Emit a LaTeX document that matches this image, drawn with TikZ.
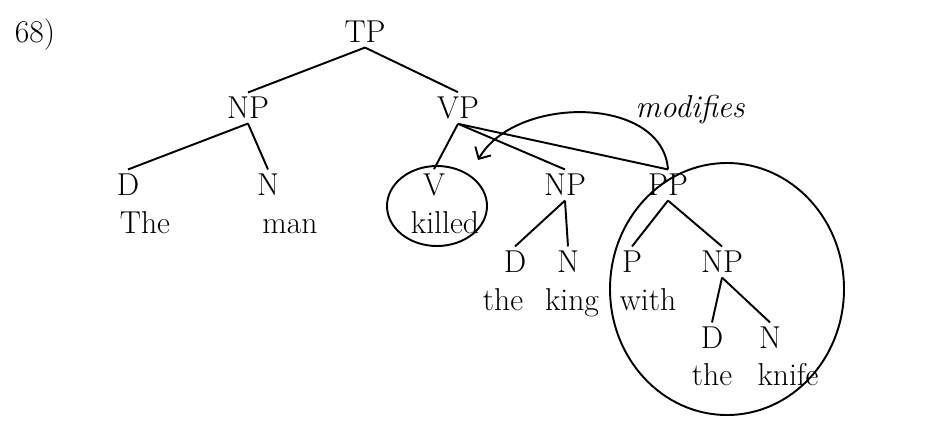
\documentclass[tikz,border=0pt]{standalone}
\usetikzlibrary{arrows.meta}
\begin{document}
\begin{tikzpicture}[
        cat/.style={inner sep=2.5pt, font=\fontsize{18}{21}\selectfont},
        word/.style={inner sep=1pt, anchor=base, font=\fontsize{18}{21}\selectfont},
        branch/.style={line width=1.1pt},
        ring/.style={line width=1.1pt}
    ]
    \useasboundingbox (0,0) rectangle (19,-8.42);
    \node[word] (ex) at (0.7,-0.84) {68)};
    % top of the tree
    \node[cat] (tp) at (7.3,-0.64) {TP};
    \node[cat] (np) at (4.96,-2.16) {NP};
    \node[cat] (vp) at (9.16,-2.16) {VP};
    \node[cat] (d) at (2.56,-3.7) {D};
    \node[word] (the) at (2.9,-4.66) {The};
    \node[cat] (n) at (5.36,-3.7) {N};
    \node[word] (man) at (5.8,-4.66) {man};
    % verb phrase
    \node[cat] (v) at (8.68,-3.7) {V};
    \node[word] (killed) at (8.9,-4.66) {killed};
    \node[cat] (npk) at (11.3,-3.7) {NP};
    \node[cat] (dk) at (10.3,-5.24) {D};
    \node[word] (thek) at (10.06,-6.2) {the};
    \node[cat] (nk) at (11.36,-5.24) {N};
    \node[word] (king) at (11.44,-6.2) {king};
    % prepositional phrase
    \node[cat] (pp) at (13.36,-3.7) {PP};
    \node[cat] (p) at (12.64,-5.24) {P};
    \node[word] (with) at (12.96,-6.2) {with};
    \node[cat] (npw) at (14.44,-5.24) {NP};
    \node[cat] (dw) at (14.24,-6.76) {D};
    \node[word] (thew) at (14.24,-7.7) {the};
    \node[cat] (nw) at (15.4,-6.76) {N};
    \node[word] (knife) at (15.76,-7.7) {knife};
    \node[word] (mod) at (13.8,-2.34) {\itshape modifies};
    \draw[branch] (tp.south) -- (np.north);
    \draw[branch] (tp.south) -- (vp.north);
    \draw[branch] (np.south) -- (d.north);
    \draw[branch] (np.south) -- (n.north);
    \draw[branch] (vp.south) -- (v.north);
    \draw[branch] (vp.south) -- (npk.north);
    \draw[branch] (vp.south) -- (pp.north);
    \draw[branch] (npk.south) -- (dk.north);
    \draw[branch] (npk.south) -- (nk.north);
    \draw[branch] (pp.south) -- (p.north);
    \draw[branch] (pp.south) -- (npw.north);
    \draw[branch] (npw.south) -- (dw.north);
    \draw[branch] (npw.south) -- (nw.north);
    \draw[ring] (8.74,-4.12) ellipse (1.0 and 0.8);
    \draw[ring] (14.54,-5.78) ellipse (2.34 and 2.52);
    \coordinate (tip) at (9.56,-3.2);
    \draw[ring,-{Straight Barb[length=1.8mm,width=3.6mm]}] (pp.north) .. controls (13.25,-1.9) and (10.3,-1.9) .. (tip);
\end{tikzpicture}
\end{document}
